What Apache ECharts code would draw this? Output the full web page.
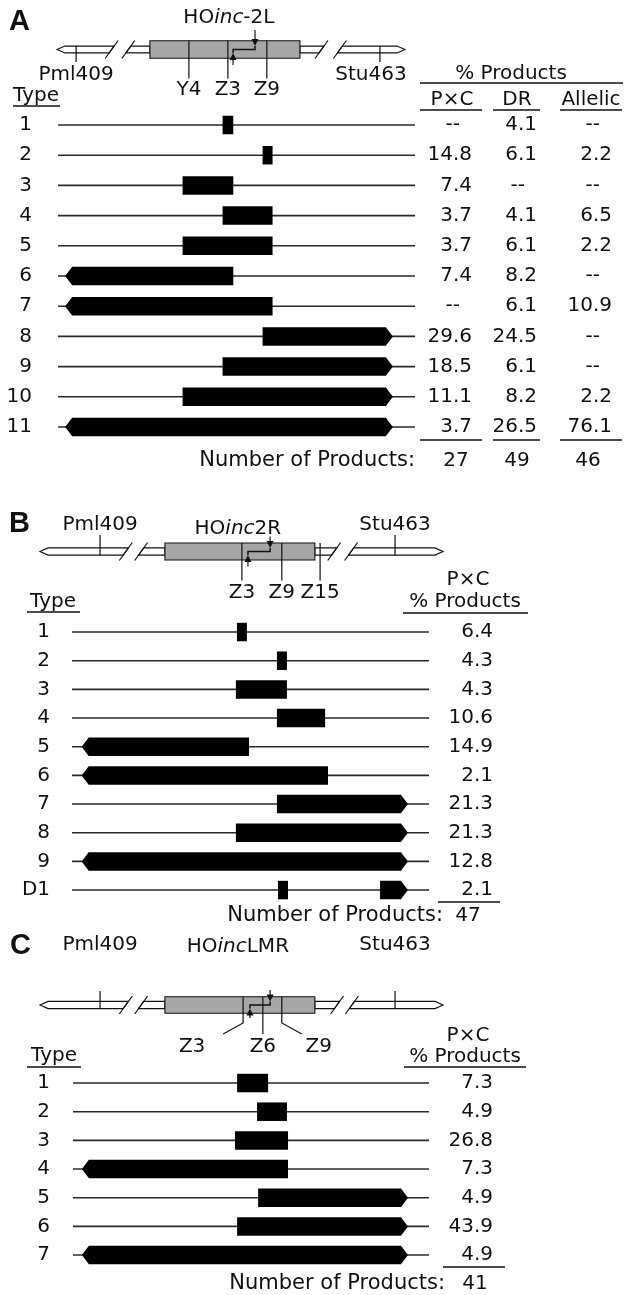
<!DOCTYPE html>
<html><head><meta charset="utf-8">
<script src="https://cdn.jsdelivr.net/npm/echarts@6/dist/echarts.min.js"></script>
<style>html,body{margin:0;padding:0;background:#fff}#c{width:627px;height:1295px}</style>
</head><body><div id="c"></div>
<script>
// ================= DATA =================
// Panel A  (tract positions in row units: 0 = left end of line, 100 = right end)
const typesA = ['1','2','3','4','5','6','7','8','9','10','11'];
const tractRowA = [0,1,2,3,4,5,6,7,8,9,10];
const tractStartA = [46.1,57.3,34.9,46.1,34.9,2.0,2.0,57.3,46.1,34.9,2.0];
const tractEndA   = [49.1,60.1,49.1,60.1,60.1,49.1,60.1,93.8,93.8,93.8,93.8];
const pxcA     = ['--','14.8','7.4','3.7','3.7','7.4','--','29.6','18.5','11.1','3.7'];
const drA      = ['4.1','6.1','--','4.1','6.1','8.2','6.1','24.5','6.1','8.2','26.5'];
const allelicA = ['--','2.2','--','6.5','2.2','--','10.9','--','--','2.2','76.1'];
const columnsA = ['P×C','DR','Allelic'];
const countsA  = [27,49,46];

// Panel B
const typesB = ['1','2','3','4','5','6','7','8','9','D1'];
const tractRowB   = [0,1,2,3,4,5,6,7,8,9,9];
const tractStartB = [46.2,57.4,45.9,57.4,2.7,2.7,57.4,45.9,2.7,57.7,86.3];
const tractEndB   = [49.0,60.2,60.2,70.9,49.6,71.7,94.1,94.1,94.1,60.5,94.1];
const pxcB   = ['6.4','4.3','4.3','10.6','14.9','2.1','21.3','21.3','12.8','2.1'];
const countsB = [47];

// Panel C
const typesC = ['1','2','3','4','5','6','7'];
const tractRowC   = [0,1,2,3,4,5,6];
const tractStartC = [46.1,51.7,45.5,2.5,52.0,46.1,2.5];
const tractEndC   = [54.8,60.1,60.4,60.4,94.1,94.1,94.1];
const pxcC   = ['7.3','4.9','26.8','7.3','4.9','43.9','4.9'];
const countsC = [41];

// Maps (map units: 0 = left tip, 100 = right tip)
const siteNames = ['Pml409','Stu463'];
const mapTitleA = ['HO','inc','-2L'];
const mapBoxA = [26.7,69.8];
const mapSitesA = [5.5,92.8];
const mapBreaksA = [15.7,20.5,76.0,81.3];
const markerNamesA = ['Y4','Z3','Z9'];
const markerPosA = [37.9,49.1,60.3];
const cutSiteA = [56.9,50.6];

const mapTitleB = ['HO','inc','2R'];
const mapBoxB = [31.0,68.2];
const mapSitesB = [14.9,88.1];
const mapBreaksB = [21.3,25.1,73.0,77.2];
const markerNamesB = ['Z3','Z9','Z15'];
const markerPosB = [50.1,60.0,69.5];
const cutSiteB = [57.1,51.6];

const mapTitleC = ['HO','inc','LMR'];
const mapBoxC = [31.0,68.2];
const mapSitesC = [14.9,88.1];
const mapBreaksC = [21.3,25.1,73.7,77.4];
const markerNamesC = ['Z3','Z6','Z9'];
const markerPosC = [50.4,55.3,60.0];
const cutSiteC = [57.1,52.1];

// ================= STYLE / LAYOUT =================
const FONT = 'DejaVu Sans';
const INK = '#111';
const BAR_H = 18.5, ARROW_W = 7;
const layoutA = {cy:49.5, left:57, right:405, railH:3.4, boxH:8.7, tick:[-3.4,12.5], siteDy:25.5, siteDx:[0,-9],
  markerBend:[28.5,28.5,28.5], markerEndX:[0,0,0], markerLabelDx:[0,0,0], markerDy:40, titleX:49.4, titleDy:-31.5, stemTop:-19.5, stemBot:15.5};
const layoutB = {cy:551.5, left:40, right:443, railH:3.6, boxH:8.5, tick:[-16.5,3.6], siteDy:-27, siteDx:[0,0],
  markerBend:[28.5,28.5,28.5], markerEndX:[0,0,0], markerLabelDx:[0,0,0], markerDy:41, titleX:49.1, titleDy:-23, stemTop:-15, stemBot:15};
const layoutC = {cy:1005, left:40, right:443, railH:3.6, boxH:8.3, tick:[-14,3.6], siteDy:-60, siteDx:[0,0],
  markerBend:[18,28,18], markerEndX:[-20,0,20], markerLabelDx:[-31,0,17], markerDy:42, titleX:49.1, titleDy:-58, stemTop:-15, stemBot:13};

// ================= RENDERING =================
function mapSeries(xIdx, yIdx, d, L) {
  return {
    type:'custom', xAxisIndex:xIdx, yAxisIndex:yIdx, silent:true, clip:false,
    data:[[0,0]],
    renderItem(params, api){
      const X = u => api.coord([u,0])[0];
      const cy = api.coord([0,0])[1];
      const k = 0.72, rh = L.railH, bh = L.boxH, tip = 8;
      const ch = [];
      const st = {stroke:INK, lineWidth:1.2, fill:null};
      const x0 = X(0), x1 = X(100);
      const b = d.breaks.map(X);
      const bx0 = X(d.box[0]), bx1 = X(d.box[1]);
      const piece = pts => ch.push({type:'polygon', shape:{points:pts}, style:{fill:'#fff', stroke:INK, lineWidth:1.1}});
      piece([[x0,cy],[x0+tip,cy-rh],[b[0]+rh*k,cy-rh],[b[0]-rh*k,cy+rh],[x0+tip,cy+rh]]);
      piece([[b[1]+rh*k,cy-rh],[bx0,cy-rh],[bx0,cy+rh],[b[1]-rh*k,cy+rh]]);
      piece([[bx1,cy-rh],[b[2]+rh*k,cy-rh],[b[2]-rh*k,cy+rh],[bx1,cy+rh]]);
      piece([[b[3]+rh*k,cy-rh],[x1-tip,cy-rh],[x1,cy],[x1-tip,cy+rh],[b[3]-rh*k,cy+rh]]);
      b.forEach(x => ch.push({type:'line', shape:{x1:x-9*k, y1:cy+9, x2:x+9*k, y2:cy-9}, style:st}));
      ch.push({type:'rect', shape:{x:bx0, y:cy-bh, width:bx1-bx0, height:2*bh}, style:{fill:'#a6a6a6', stroke:INK, lineWidth:1.1}});
      // restriction sites
      d.sites.forEach((s,i) => {
        const x = X(s);
        ch.push({type:'line', shape:{x1:x, y1:cy+L.tick[0], x2:x, y2:cy+L.tick[1]}, style:st});
        ch.push(textEl(x+L.siteDx[i], cy+L.siteDy, siteNames[i]));
      });
      // markers
      d.markerPos.forEach((m,i) => {
        const x = X(m);
        const ex = x + L.markerEndX[i];
        ch.push({type:'polyline', shape:{points:[[x,cy-bh],[x,cy+L.markerBend[i]],[ex,cy+29]]}, style:st});
        ch.push(textEl(ex+L.markerLabelDx[i], cy+L.markerDy, d.markerNames[i]));
      });
      // cut site symbol
      const xt = X(d.cut[0]), xb = X(d.cut[1]);
      ch.push({type:'line', shape:{x1:xt, y1:cy+L.stemTop, x2:xt, y2:cy-rh-5}, style:st});
      ch.push({type:'polygon', shape:{points:[[xt-3.5,cy-rh-7],[xt+3.5,cy-rh-7],[xt,cy-rh]]}, style:{fill:INK}});
      ch.push({type:'polyline', shape:{points:[[xt,cy-rh],[xt,cy],[xb,cy],[xb,cy+rh]]}, style:{stroke:INK, lineWidth:1.5, fill:null}});
      ch.push({type:'line', shape:{x1:xb, y1:cy+L.stemBot, x2:xb, y2:cy+rh+5}, style:st});
      ch.push({type:'polygon', shape:{points:[[xb-3.5,cy+rh+7],[xb+3.5,cy+rh+7],[xb,cy+rh]]}, style:{fill:INK}});
      // title
      const t = d.title;
      ch.push({type:'text', x:X(L.titleX), y:cy+L.titleDy, style:{
        text:'{n|'+t[0]+'}{i|'+t[1]+'}{n|'+t[2]+'}', align:'center', verticalAlign:'middle', textAlign:'center', textVerticalAlign:'middle',
        rich:{n:{fontSize:20, fontFamily:FONT, fill:INK, color:INK}, i:{fontSize:20, fontFamily:FONT, fontStyle:'italic', fill:INK, color:INK}}}});
      return {type:'group', children:ch};
    }
  };
}
function textEl(x, y, text, o={}) {
  return {type:'text', x, y, style:{text, fill:INK, fontSize:o.size||20, fontFamily:FONT,
    align:o.align||'center', verticalAlign:'middle', textAlign:o.align||'center', textVerticalAlign:'middle'}};
}
function baselineSeries(xIdx, yIdx, types) {
  return {type:'custom', xAxisIndex:xIdx, yAxisIndex:yIdx, silent:true, clip:false,
    data: types.map((t,i)=>[0,100,i]), encode:{x:[0,1], y:2},
    renderItem(params, api){
      const a = api.coord([api.value(0), api.value(2)]), b = api.coord([api.value(1), api.value(2)]);
      return {type:'line', shape:{x1:a[0], y1:a[1], x2:b[0], y2:b[1]}, style:{stroke:'#2a2a2a', lineWidth:1.6}};
    }};
}
function tractSeries(xIdx, yIdx, rows, starts, ends) {
  return {type:'custom', xAxisIndex:xIdx, yAxisIndex:yIdx, silent:true, clip:false,
    data: rows.map((r,i)=>[starts[i], ends[i], r]), encode:{x:[0,1], y:2},
    renderItem(params, api){
      const s = api.value(0), e = api.value(1), r = api.value(2);
      const p1 = api.coord([s, r]), p2 = api.coord([e, r]);
      const h = BAR_H/2, cy = p1[1], a = ARROW_W;
      const openL = s < 5, openR = e > 90;
      const pts = [];
      if (openL) pts.push([p1[0], cy], [p1[0]+a, cy-h]); else pts.push([p1[0], cy-h]);
      if (openR) pts.push([p2[0]-a, cy-h], [p2[0], cy], [p2[0]-a, cy+h]); else pts.push([p2[0], cy-h], [p2[0], cy+h]);
      if (openL) pts.push([p1[0]+a, cy+h]); else pts.push([p1[0], cy+h]);
      return {type:'polygon', shape:{points:pts}, style:{fill:'#000'}};
    }};
}
const labelBase = {fontSize:20, fontFamily:FONT, color:INK};
function typeAxis(gridIndex, data, margin) {
  return {type:'category', gridIndex, data, inverse:true, position:'left',
    axisLine:{show:false}, axisTick:{show:false}, splitLine:{show:false},
    axisLabel:Object.assign({interval:0, margin}, labelBase)};
}
function valueColAxis(gridIndex, data, margin) {
  return {type:'category', gridIndex, data, inverse:true, position:'right',
    axisLine:{show:false}, axisTick:{show:false}, splitLine:{show:false},
    axisLabel:Object.assign({interval:0, margin, align:'right',
      formatter: v => v === '--' ? '{d|--}' : v,
      rich:{d:{fontSize:20, fontFamily:FONT, color:INK, padding:[0,12,0,0]}}}, labelBase)};
}
const hiddenX = i => ({type:'value', gridIndex:i, min:0, max:100, show:false});
const hiddenY = i => ({type:'value', gridIndex:i, min:-1, max:1, show:false});
const mapGrid = L => ({left:L.left, right:627-L.right, top:L.cy-20, height:40});

const T = (x,y,text,o={}) => ({type:'text', x, y, silent:true, style:{text, fill:INK, fontSize:o.size||20,
  fontFamily:o.font||FONT, fontWeight:o.weight||'normal', align:o.align||'center', verticalAlign:'middle',
  textAlign:o.align||'center', textVerticalAlign:'middle'}});
const Ln = (x1,y1,x2,y2) => ({type:'line', silent:true, shape:{x1,y1,x2,y2}, style:{stroke:INK, lineWidth:1.5}});

const option = {
  backgroundColor:'#fff',
  animation:false,
  grid:[
    mapGrid(layoutA),
    {left:58, right:212, top:109.9, height:332.2},
    mapGrid(layoutB),
    {left:72, right:198, top:617.7, height:286.7},
    mapGrid(layoutC),
    {left:73, right:198, top:1068.7, height:200.7}
  ],
  xAxis:[hiddenX(0),hiddenX(1),hiddenX(2),hiddenX(3),hiddenX(4),hiddenX(5)],
  yAxis:[
    hiddenY(0),                       // 0
    typeAxis(1, typesA, 26),          // 1
    valueColAxis(1, pxcA, 57),        // 2
    valueColAxis(1, drA, 122),        // 3
    valueColAxis(1, allelicA, 197),   // 4
    hiddenY(2),                       // 5
    typeAxis(3, typesB, 22),          // 6
    valueColAxis(3, pxcB, 64),        // 7
    hiddenY(4),                       // 8
    typeAxis(5, typesC, 23),          // 9
    valueColAxis(5, pxcC, 64)         // 10
  ],
  series:[
    mapSeries(0, 0, {title:mapTitleA, box:mapBoxA, sites:mapSitesA, breaks:mapBreaksA, markerNames:markerNamesA, markerPos:markerPosA, cut:cutSiteA}, layoutA),
    baselineSeries(1, 1, typesA),
    tractSeries(1, 1, tractRowA, tractStartA, tractEndA),
    mapSeries(2, 5, {title:mapTitleB, box:mapBoxB, sites:mapSitesB, breaks:mapBreaksB, markerNames:markerNamesB, markerPos:markerPosB, cut:cutSiteB}, layoutB),
    baselineSeries(3, 6, typesB),
    tractSeries(3, 6, tractRowB, tractStartB, tractEndB),
    mapSeries(4, 8, {title:mapTitleC, box:mapBoxC, sites:mapSitesC, breaks:mapBreaksC, markerNames:markerNamesC, markerPos:markerPosC, cut:cutSiteC}, layoutC),
    baselineSeries(5, 9, typesC),
    tractSeries(5, 9, tractRowC, tractStartC, tractEndC)
  ],
  graphic:[
    // panel letters
    T(9,22,'A',{size:29, weight:'bold', font:'Liberation Sans', align:'left'}),
    T(9,524,'B',{size:29, weight:'bold', font:'Liberation Sans', align:'left'}),
    T(10,946,'C',{size:29, weight:'bold', font:'Liberation Sans', align:'left'}),
    // panel A headers
    T(36,96,'Type'), Ln(13,106,60,106),
    T(511,74,'% Products'), Ln(420,83,623,83),
    T(452,100,columnsA[0]), T(517,100,columnsA[1]), T(591,100,columnsA[2]),
    Ln(420,110,482,110), Ln(493,110,540,110), Ln(560,110,622,110),
    Ln(420,440,482,440), Ln(493,440,540,440), Ln(560,440,622,440),
    T(415,461,'Number of Products:',{align:'right', size:21}),
    T(456,461,String(countsA[0])), T(517,461,String(countsA[1])), T(588,461,String(countsA[2])),
    // panel B headers
    T(53,602,'Type'), Ln(27,612,80,612),
    T(468,580,'P×C'), T(465,602,'% Products'), Ln(403,613,528,613),
    Ln(438,902,500,902),
    T(443,916,'Number of Products:',{align:'right', size:21}),
    T(468,916,String(countsB[0])),
    // panel C headers
    T(54,1056,'Type'), Ln(27,1067,81,1067),
    T(468,1036,'P×C'), T(465,1057,'% Products'), Ln(404,1067,526,1067),
    Ln(443,1267,505,1267),
    T(445,1284,'Number of Products:',{align:'right', size:21}),
    T(475,1284,String(countsC[0]))
  ]
};
const chart = echarts.init(document.getElementById('c'), null, {renderer:'canvas'});
chart.setOption(option);
</script>
</body></html>
